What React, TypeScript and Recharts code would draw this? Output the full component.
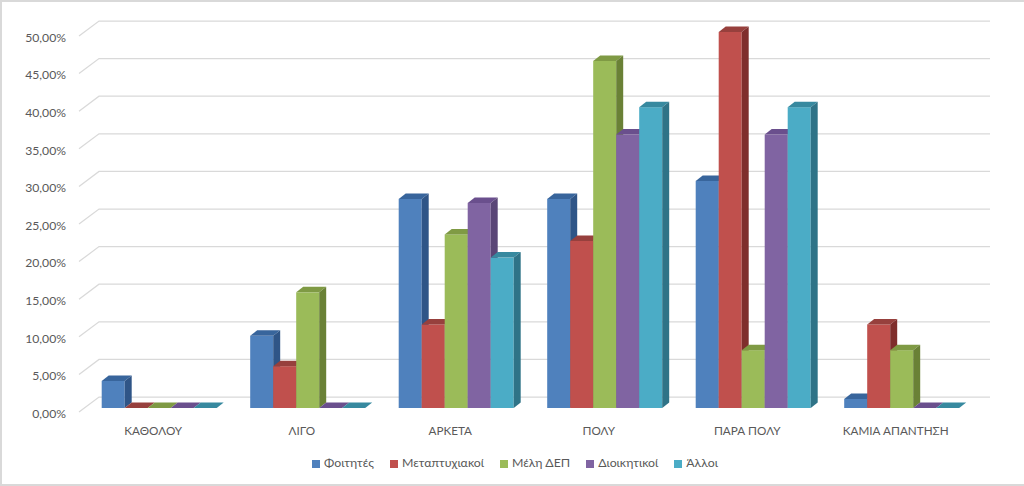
import { Bar, BarChart, CartesianGrid, Legend, XAxis, YAxis } from "recharts";

const categories = ["ΚΑΘΟΛΟΥ", "ΛΙΓΟ", "ΑΡΚΕΤΑ", "ΠΟΛΥ", "ΠΑΡΑ ΠΟΛΥ", "ΚΑΜΙΑ ΑΠΑΝΤΗΣΗ"];
const foitites = [3.6, 9.6, 27.8, 27.8, 30.2, 1.2];
const metaptyxiakoi = [0, 5.56, 11.11, 22.22, 50, 11.11];
const meliDep = [0, 15.38, 23.08, 46.15, 7.69, 7.69];
const dioikitikoi = [0, 0, 27.27, 36.36, 36.36, 0];
const alloi = [0, 0, 20, 40, 40, 0];
const yTicks = [0, 5, 10, 15, 20, 25, 30, 35, 40, 45, 50];

const data = categories.map((name, i) => ({
  name,
  foitites: foitites[i],
  metaptyxiakoi: metaptyxiakoi[i],
  meliDep: meliDep[i],
  dioikitikoi: dioikitikoi[i],
  alloi: alloi[i],
}));

const FONT = "Lato, 'Open Sans', sans-serif";
const TEXT = "#595959";

// offset of the bars inside the floor depth, and the depth of a bar
const SHIFT_X = 5.7;
const SHIFT_Y = -4;
const DEPTH_X = 7;
const DEPTH_Y = 5.5;

function bar3d(side: string, top: string) {
  return (p: any) => {
    const x = p.x + SHIFT_X;
    const y = p.y + SHIFT_Y;
    const w = p.width;
    const h = Math.max(p.height, 0);
    return (
      <g>
        <rect x={x} y={y} width={w} height={h} fill={p.fill} />
        <polygon
          points={`${x},${y} ${x + DEPTH_X},${y - DEPTH_Y} ${x + w + DEPTH_X},${y - DEPTH_Y} ${x + w},${y}`}
          fill={top}
        />
        <polygon
          points={`${x + w},${y} ${x + w + DEPTH_X},${y - DEPTH_Y} ${x + w + DEPTH_X},${y + h - DEPTH_Y} ${x + w},${y + h}`}
          fill={side}
        />
      </g>
    );
  };
}

// gridline runs up the side wall and then along the back wall
function wallLine(p: any) {
  return (
    <polyline
      key={p.key ?? p.y1}
      points={`${p.x1},${p.y1} ${p.x1 + 20},${p.y1 - 15} ${p.x2 + 20},${p.y1 - 15}`}
      fill="none"
      stroke="#d9d9d9"
      strokeWidth={1.25}
    />
  );
}

export default function App() {
  return (
    <div
      style={{
        position: "absolute",
        left: 0,
        top: 0,
        width: 1024,
        height: 486,
        boxSizing: "border-box",
        borderTop: "2px solid #d9d9d9",
        borderLeft: "2px solid #d9d9d9",
        borderBottom: "2px solid #d9d9d9",
        background: "#fff",
      }}
    >
      <div style={{ position: "absolute", left: -2, top: -2 }}>
        <BarChart
          width={1024}
          height={486}
          data={data}
          barCategoryGap={17}
          barGap={0}
          margin={{ top: 36, right: 54, left: 0, bottom: 0 }}
        >
          <CartesianGrid vertical={false} horizontal={wallLine} />
          <XAxis
            dataKey="name"
            height={74}
            axisLine={false}
            tickLine={false}
            tickMargin={9}
            interval={0}
            tick={{ fill: TEXT, fontSize: 11.7, fontFamily: FONT }}
          />
          <YAxis
            width={79}
            domain={[0, 50]}
            ticks={yTicks}
            interval={0}
            axisLine={false}
            tickLine={false}
            tickSize={0}
            tickMargin={13}
            tickFormatter={(v: number) => v.toFixed(2).replace(".", ",") + "%"}
            tick={{ fill: TEXT, fontSize: 12.2, fontFamily: FONT, dy: 1.5 }}
          />
          <Legend
            layout="horizontal"
            verticalAlign="middle"
            align="center"
            iconType="square"
            iconSize={8}
            itemSorter={null}
            wrapperStyle={{ top: 455, left: 38, fontSize: 12.3, fontFamily: FONT }}
            formatter={(v: string) => <span style={{ color: TEXT, marginRight: 6 }}>{v}</span>}
          />
          <Bar dataKey="foitites" name="Φοιτητές" fill="#4f81bd" isAnimationActive={false} shape={bar3d("#2f5587", "#38659c")} />
          <Bar dataKey="metaptyxiakoi" name="Μεταπτυχιακοί" fill="#c0504d" isAnimationActive={false} shape={bar3d("#7f2e2c", "#97403d")} />
          <Bar dataKey="meliDep" name="Μέλη ΔΕΠ" fill="#9bbb59" isAnimationActive={false} shape={bar3d("#6a8136", "#7f9a44")} />
          <Bar dataKey="dioikitikoi" name="Διοικητικοί" fill="#8064a2" isAnimationActive={false} shape={bar3d("#5a4676", "#6a4f8d")} />
          <Bar dataKey="alloi" name="Άλλοι" fill="#4bacc6" isAnimationActive={false} shape={bar3d("#2f7387", "#37899f")} />
        </BarChart>
      </div>
    </div>
  );
}
